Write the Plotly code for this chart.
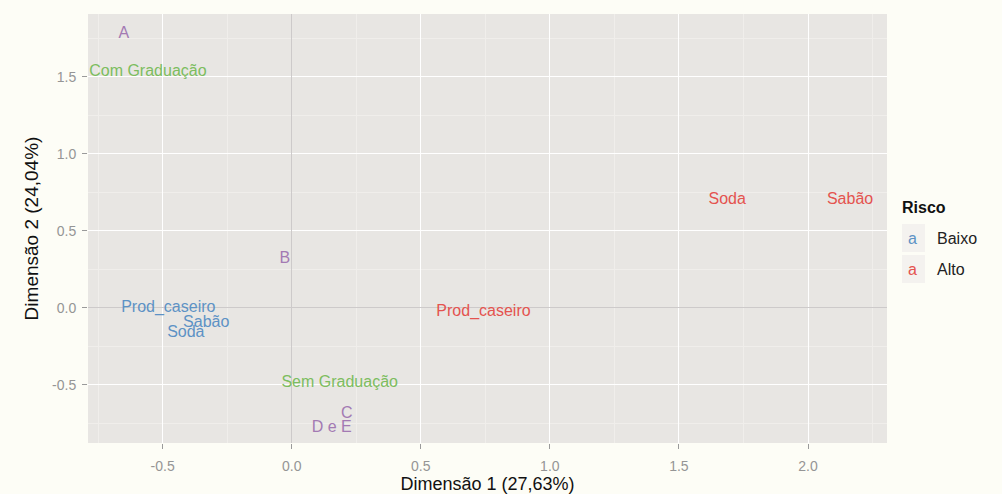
import plotly.graph_objects as go

# Data
cat_labels = ["A", "B", "C", "D e E"]
cat_x = [-0.65, -0.027, 0.213, 0.155]
cat_y = [1.78, 0.318, -0.69, -0.78]

edu_labels = ["Com Graduação", "Sem Graduação"]
edu_x = [-0.557, 0.186]
edu_y = [1.53, -0.487]

baixo_labels = ["Prod_caseiro", "Sabão", "Soda"]
baixo_x = [-0.478, -0.331, -0.41]
baixo_y = [0.0, -0.097, -0.162]

alto_labels = ["Prod_caseiro", "Soda", "Sabão"]
alto_x = [0.743, 1.687, 2.163]
alto_y = [-0.026, 0.70, 0.70]

x_ticks = [-0.5, 0.0, 0.5, 1.0, 1.5, 2.0]
y_ticks = [-0.5, 0.0, 0.5, 1.0, 1.5]

PURPLE = "#a37ab3"
GREEN = "#7cbd5e"
BLUE = "#5d92c5"
RED = "#e4534f"
FONT = "Liberation Sans, Arial, sans-serif"

fig = go.Figure()
for lab, xs, ys, col in [
    (cat_labels, cat_x, cat_y, PURPLE),
    (edu_labels, edu_x, edu_y, GREEN),
    (baixo_labels, baixo_x, baixo_y, BLUE),
    (alto_labels, alto_x, alto_y, RED),
]:
    fig.add_trace(go.Scatter(x=xs, y=ys, text=lab, mode="text",
                             textposition="middle center",
                             textfont=dict(color=col, size=16, family=FONT),
                             showlegend=False, hoverinfo="skip"))

def axis_common():
    return dict(
        showgrid=True, gridcolor="#ffffff", gridwidth=1.4,
        zeroline=True, zerolinecolor="#cdcaca", zerolinewidth=1,
        ticks="outside", ticklen=5, tickcolor="#9a9a9a", tickwidth=1,
        tickfont=dict(color="#959595", size=14, family=FONT),
        showline=False, automargin=False,
        minor=dict(showgrid=True, gridcolor="#f0eeeb", gridwidth=0.8, dtick=0.25, tick0=0.25),
    )

fig.update_xaxes(range=[-0.789, 2.306], tickvals=x_ticks,
                 ticktext=[f"{v:.1f}" for v in x_ticks], ticklabelstandoff=5,
                 title=dict(text="Dimensão 1 (27,63%)", font=dict(color="#111", size=18, family=FONT), standoff=5),
                 **axis_common())
fig.update_yaxes(range=[-0.877, 1.909], tickvals=y_ticks,
                 ticktext=[f"{v:.1f}" for v in y_ticks], ticklabelstandoff=3,
                 title=dict(text="Dimensão 2 (24,04%)", font=dict(color="#111", size=19, family=FONT), standoff=8),
                 **axis_common())

fig.update_layout(
    plot_bgcolor="#e8e6e3", paper_bgcolor="#fdfdf6",
    margin=dict(l=88, r=115, t=14, b=51, autoexpand=False),
    width=1002, height=494, showlegend=False,
)

# plot domain in pixels: left 88, right 887, top 14, bottom 443
def px_to_paper(px, py):
    return (px - 88) / (887 - 88), (443 - py) / (443 - 14)

leg_items = [("Baixo", BLUE), ("Alto", RED)]
annotations = []
x0, y0 = px_to_paper(900, 207)
annotations.append(dict(xref="paper", yref="paper", x=x0, y=y0, xanchor="left", yanchor="middle",
                        text="<b>Risco</b>", showarrow=False,
                        font=dict(size=16, color="#111", family=FONT)))
shapes = []
for i, (name, col) in enumerate(leg_items):
    py = 238 + i * 31
    kx0, ky0 = px_to_paper(902, py - 14)
    kx1, ky1 = px_to_paper(925, py + 14)
    shapes.append(dict(type="rect", xref="paper", yref="paper", x0=kx0, x1=kx1, y0=ky1, y1=ky0,
                       fillcolor="#f4f2ef", line=dict(width=0)))
    ax, ay = px_to_paper(913, py)
    annotations.append(dict(xref="paper", yref="paper", x=ax, y=ay, xanchor="center", yanchor="middle",
                            text="a", showarrow=False, font=dict(size=16, color=col, family=FONT)))
    lx, ly = px_to_paper(935, py)
    annotations.append(dict(xref="paper", yref="paper", x=lx, y=ly, xanchor="left", yanchor="middle",
                            text=name, showarrow=False, font=dict(size=16, color="#222", family=FONT)))
fig.update_layout(annotations=annotations, shapes=shapes)

fig.write_html("out.html", config={"displayModeBar": False},
               post_script="document.body.style.margin='0';document.body.style.background='#fdfdf6';")
